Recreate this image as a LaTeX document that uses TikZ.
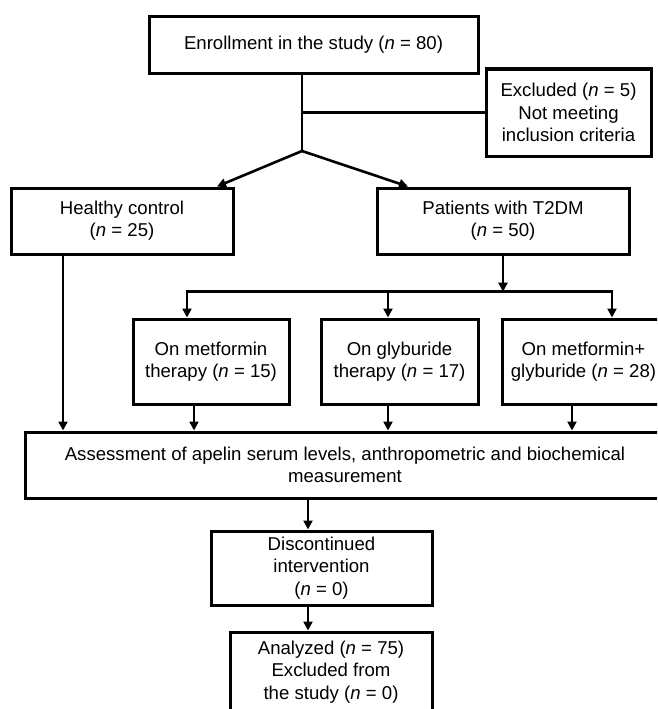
\documentclass[tikz,border=0pt]{standalone}
\usepackage{fontspec}
\setmainfont{Liberation Sans}
\usetikzlibrary{arrows.meta}
\tikzset{
  box/.style={draw, line width=3pt, rectangle, inner sep=0pt, align=center,
    font=\fontsize{18.6}{22.3}\selectfont},
  conn/.style={line width=2.6pt},
  tip/.tip={Triangle[length=9pt,width=9pt]},
  arr/.style={conn, -tip},
  darr/.style={conn, tip-tip}
}
\begin{document}
\begin{tikzpicture}[x=1pt,y=-1pt]
\clip (0,0) rectangle (657,709);
\fill[white] (0,0) rectangle (657,709);

\node[box, minimum width=329pt, minimum height=56pt] (enroll) at (313.5,45)
  {Enrollment in the study (\textit{n} = 80)};
\node[box, minimum width=165pt, minimum height=87pt] (excl) at (568.5,112.5)
  {Excluded (\textit{n} = 5)\\Not meeting\\inclusion criteria};
\node[box, minimum width=222pt, minimum height=66pt] (healthy) at (122,221)
  {Healthy control\\(\textit{n} = 25)};
\node[box, minimum width=252pt, minimum height=66pt] (patients) at (503,221)
  {Patients with T2DM\\(\textit{n} = 50)};
\node[box, minimum width=156pt, minimum height=85pt] (met) at (211,361.5)
  {On metformin\\therapy (\textit{n} = 15)};
\node[box, minimum width=157pt, minimum height=85pt] (gly) at (399.5,361.5)
  {On glyburide\\therapy (\textit{n} = 17)};
\node[box, minimum width=163pt, minimum height=85pt] (metgly) at (583.5,361.5)
  {On metformin+\\glyburide (\textit{n} = 28)};
\node[box, minimum width=639pt, minimum height=66pt] (assess) at (345,465)
  {Assessment of apelin serum levels, anthropometric and biochemical\\measurement};
\node[box, minimum width=221pt, minimum height=74pt] (disc) at (321.5,568)
  {Discontinued\\intervention\\(\textit{n} = 0)};
\node[box, minimum width=202pt, minimum height=80pt] (anal) at (331,672)
  {Analyzed (\textit{n} = 75)\\Excluded from\\the study (\textit{n} = 0)};

% helper coordinates
\coordinate (split) at (302,151);
\coordinate (xh) at (217,0);
\coordinate (xp) at (408,0);
\coordinate (xhl) at (63,0);
\coordinate (busL) at (187,291.7);
\coordinate (busR) at (612,291.7);
\coordinate (xg) at (388,0);
\coordinate (xm) at (194,0);
\coordinate (xmg) at (572,0);
\coordinate (xd) at (308,0);

% connectors
\draw[conn] (enroll.south -| split) -- (split);
\draw[conn] (split |- excl.west) -- (excl.west);
\draw[arr] (split) -- (healthy.north -| xh);
\draw[arr] (split) -- (patients.north -| xp);
\draw[arr] (patients.south) -- (patients.south |- busL);
\draw[darr] (met.north -| busL) -- (busL) -- (busR) -- (metgly.north -| busR);
\draw[arr] (busL -| xg) -- (gly.north -| xg);
\draw[arr] (healthy.south -| xhl) -- (assess.north -| xhl);
\draw[arr] (met.south -| xm) -- (assess.north -| xm);
\draw[arr] (gly.south -| xg) -- (assess.north -| xg);
\draw[arr] (metgly.south -| xmg) -- (assess.north -| xmg);
\draw[arr] (assess.south -| xd) -- (disc.north -| xd);
\draw[arr] (disc.south -| xd) -- (anal.north -| xd);
\end{tikzpicture}
\end{document}
